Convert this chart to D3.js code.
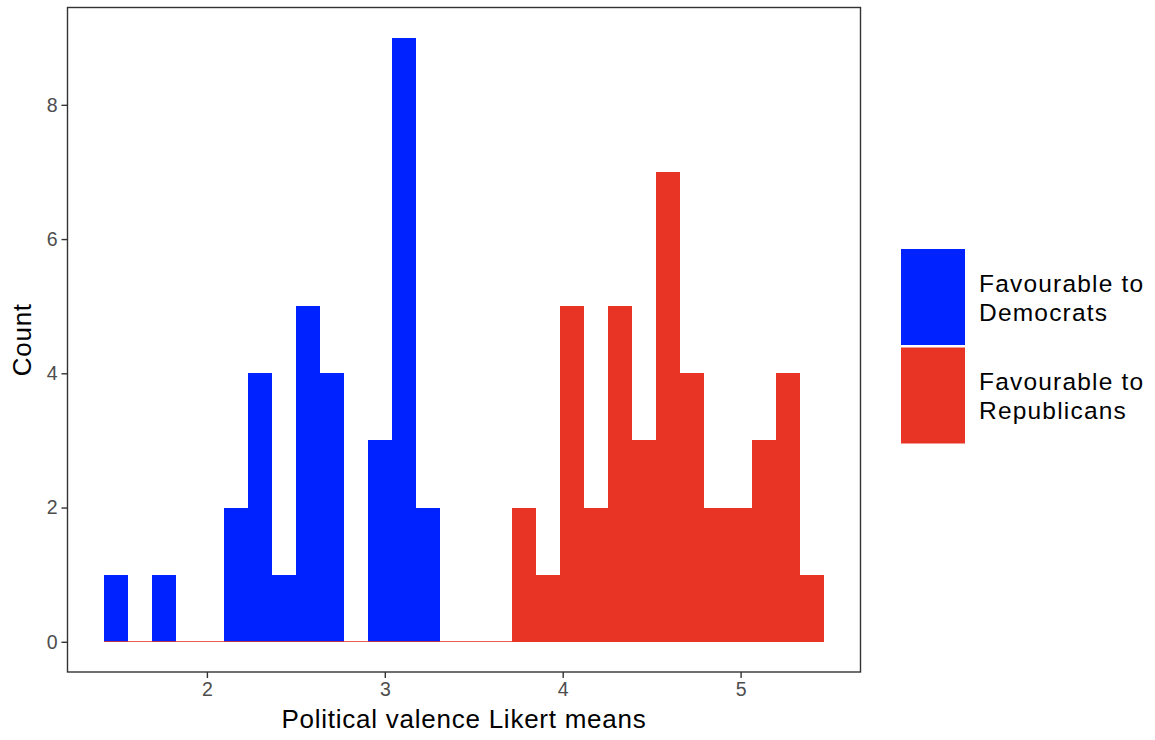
<!DOCTYPE html>
<html>
<head>
<meta charset="utf-8">
<script src="https://cdn.jsdelivr.net/npm/d3@7"></script>
<style>
  body { margin: 0; background: #fff; }
  text { font-family: "Liberation Sans", Arial, Helvetica, sans-serif; }
</style>
</head>
<body>
<div id="chart"></div>
<script>
// Histogram bins (Likert means), 30 bins
const binStart = 1.419;
const binWidth = 0.13508;
const demCounts = [1, 0, 1, 0, 0, 2, 4, 1, 5, 4, 0, 3, 9, 2, 0, 0, 0, 0, 0, 0, 0, 0, 0, 0, 0, 0, 0, 0, 0, 0];
const repCounts = [0, 0, 0, 0, 0, 0, 0, 0, 0, 0, 0, 0, 0, 0, 0, 0, 0, 2, 1, 5, 2, 5, 3, 7, 4, 2, 2, 3, 4, 1];
const xTicks = [2, 3, 4, 5];
const yTicks = [0, 2, 4, 6, 8];
const groups = ["Favourable to Democrats", "Favourable to Republicans"];
const colors = ["#0022FF", "#E83425"];

const svgW = 1155, svgH = 740;
const panel = { left: 67.5, right: 860.5, top: 7.5, bottom: 672 };

const svg = d3.select("#chart").append("svg")
  .attr("width", svgW)
  .attr("height", svgH);

// bins as objects
const bins = demCounts.map((d, i) => ({
  x0: binStart + i * binWidth,
  x1: binStart + (i + 1) * binWidth,
  dem: d,
  rep: repCounts[i]
}));

const xMin = binStart, xMax = binStart + demCounts.length * binWidth;
const xPad = (xMax - xMin) * 0.05;
const yMax = d3.max(bins, d => d.dem + d.rep);

const x = d3.scaleLinear()
  .domain([xMin - xPad, xMax + xPad])
  .range([panel.left, panel.right]);
const y = d3.scaleLinear()
  .domain([-yMax * 0.05, yMax * 1.05])
  .range([panel.bottom, panel.top]);

// Democrat bars
svg.append("g").attr("shape-rendering", "crispEdges")
  .selectAll("rect")
  .data(bins.filter(d => d.dem > 0))
  .enter().append("rect")
  .attr("x", d => x(d.x0))
  .attr("width", d => x(d.x1) - x(d.x0))
  .attr("y", d => y(d.dem))
  .attr("height", d => y(0) - y(d.dem))
  .attr("fill", colors[0]);

// Republican bars (zero bins show as a thin line at the base)
svg.append("g").attr("shape-rendering", "crispEdges")
  .selectAll("rect")
  .data(bins)
  .enter().append("rect")
  .attr("x", d => x(d.x0))
  .attr("width", d => x(d.x1) - x(d.x0))
  .attr("y", d => d.rep > 0 ? y(d.rep) : y(0) - 0.5)
  .attr("height", d => d.rep > 0 ? y(0) - y(d.rep) : 1)
  .attr("fill", colors[1])
  .attr("opacity", d => d.rep > 0 ? 1 : 0.8);

// Panel border
svg.append("rect")
  .attr("x", panel.left)
  .attr("y", panel.top)
  .attr("width", panel.right - panel.left)
  .attr("height", panel.bottom - panel.top)
  .attr("fill", "none")
  .attr("stroke", "#333333")
  .attr("stroke-width", 1.4);

// Axes
const bottomAxis = d3.axisBottom(x).tickValues(xTicks).tickSize(6).tickPadding(4).tickFormat(d3.format("d"));
const leftAxis = d3.axisLeft(y).tickValues(yTicks).tickSize(6).tickPadding(4).tickFormat(d3.format("d"));

function styleAxis(g) {
  g.select(".domain").remove();
  g.selectAll("line").attr("stroke", "#333333").attr("stroke-width", 1.4);
  g.selectAll("text").attr("fill", "#4D4D4D").style("font-size", "19.5px");
}

svg.append("g")
  .attr("transform", `translate(0, ${panel.bottom})`)
  .call(bottomAxis)
  .call(styleAxis);

svg.append("g")
  .attr("transform", `translate(${panel.left}, 0)`)
  .call(leftAxis)
  .call(styleAxis);

// Axis titles
svg.append("text")
  .attr("x", (panel.left + panel.right) / 2)
  .attr("y", 728)
  .attr("text-anchor", "middle")
  .style("font-size", "26px")
  .style("letter-spacing", "0.75px")
  .attr("fill", "#000")
  .text("Political valence Likert means");

svg.append("text")
  .attr("transform", `translate(31, ${(panel.top + panel.bottom) / 2}) rotate(-90)`)
  .attr("text-anchor", "middle")
  .style("font-size", "26px")
  .style("letter-spacing", "0.75px")
  .attr("fill", "#000")
  .text("Count");

// Legend
const legend = svg.append("g").attr("transform", "translate(901, 249)");
const keyW = 64, keyH = 96, keyGap = 2.5;
groups.forEach((g, i) => {
  const row = legend.append("g").attr("transform", `translate(0, ${i * (keyH + keyGap)})`);
  row.append("rect")
    .attr("width", keyW)
    .attr("height", keyH)
    .attr("fill", colors[i]);
  const words = g.split(" ");
  const lines = [words.slice(0, 2).join(" "), words.slice(2).join(" ")];
  const t = row.append("text")
    .attr("x", keyW + 14)
    .attr("y", 42.5)
    .style("font-size", "24.5px")
    .style("letter-spacing", "1.2px")
    .attr("fill", "#000");
  lines.forEach((l, j) => {
    t.append("tspan").attr("x", keyW + 14).attr("dy", j === 0 ? 0 : 29).text(l);
  });
});
</script>
</body>
</html>
